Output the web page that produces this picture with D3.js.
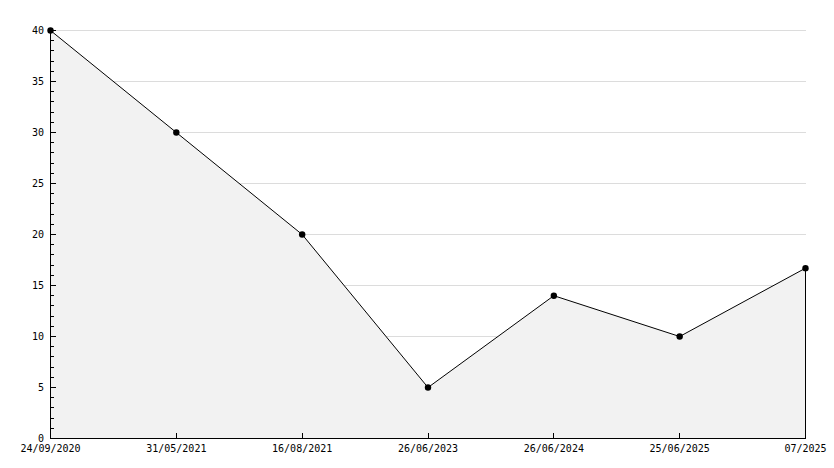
<!DOCTYPE html>
<html><head><meta charset="utf-8">
<script src="https://cdn.jsdelivr.net/npm/d3@7"></script>
<style>
html,body{margin:0;padding:0;background:#fff;}
text{font-family:"DejaVu Sans Mono",monospace;font-size:10px;fill:#000;}
</style></head>
<body>
<svg id="chart" width="834" height="468"></svg>
<script>
const categories = ["24/09/2020","31/05/2021","16/08/2021","26/06/2023","26/06/2024","25/06/2025","07/2025"];
const values = [40, 30, 20, 5, 14, 10, 16.7];
const yMajorTicks = [0,5,10,15,20,25,30,35,40];

const svg = d3.select("#chart");
const x = d3.scalePoint().domain(categories).range([50.5, 805.5]);
const y = d3.scaleLinear().domain([0, 40]).range([438.5, 30.5]);
const data = categories.map((c,i)=>({c, v: values[i]}));

// grid
svg.append("g").selectAll("line").data(yMajorTicks.filter(d=>d>0)).join("line")
  .attr("x1", x.range()[0]).attr("x2", x.range()[1])
  .attr("y1", d=>Math.round(y(d)-0.5)+0.5).attr("y2", d=>Math.round(y(d)-0.5)+0.5)
  .attr("stroke", "#dcdcdc").attr("stroke-width",1).attr("shape-rendering","crispEdges");

// area
const area = d3.area().x(d=>x(d.c)).y0(y(0)).y1(d=>y(d.v));
svg.append("path").datum(data).attr("d", area).attr("fill", "#f2f2f2");

// right edge of area
const last = data[data.length-1];
svg.append("line").attr("x1", x(last.c)).attr("x2", x(last.c))
  .attr("y1", y(last.v)).attr("y2", y(0)).attr("stroke","#000").attr("shape-rendering","crispEdges");

// line
const line = d3.line().x(d=>x(d.c)).y(d=>y(d.v));
svg.append("path").datum(data).attr("d", line).attr("fill","none").attr("stroke","#000").attr("stroke-width",1);

// markers
svg.append("g").selectAll("circle").data(data).join("circle")
  .attr("cx", d=>x(d.c)).attr("cy", d=>y(d.v)).attr("r", 3.2)
  .attr("fill","#000");

// y axis
const ya = svg.append("g");
ya.append("line").attr("x1",50.5).attr("x2",50.5).attr("y1",y(40)).attr("y2",y(0)+0.5).attr("stroke","#000");
const minor = d3.range(0,41,1);
ya.selectAll("line.t").data(minor).join("line").attr("class","t")
  .attr("x1",50.5).attr("x2", d=> d%5===0 ? 55.5 : 53.5)
  .attr("y1", d=>Math.round(y(d)-0.5)+0.5).attr("y2", d=>Math.round(y(d)-0.5)+0.5)
  .attr("stroke","#000").attr("shape-rendering","crispEdges");
ya.selectAll("text").data(yMajorTicks).join("text")
  .attr("x",44).attr("y", d=>y(d)).attr("dy","0.35em").attr("text-anchor","end")
  .text(d=>d);

// x axis
const xa = svg.append("g");
xa.append("line").attr("x1",50).attr("x2",x.range()[1]+0.5).attr("y1",438.5).attr("y2",438.5).attr("stroke","#000");
xa.selectAll("line.t").data(categories).join("line").attr("class","t")
  .attr("x1", d=>x(d)).attr("x2", d=>x(d)).attr("y1",438.5).attr("y2",433)
  .attr("stroke","#000").attr("shape-rendering","crispEdges");
xa.selectAll("text").data(categories).join("text")
  .attr("x", d=>x(d)).attr("y", 452).attr("text-anchor","middle").text(d=>d);
</script>
</body></html>
